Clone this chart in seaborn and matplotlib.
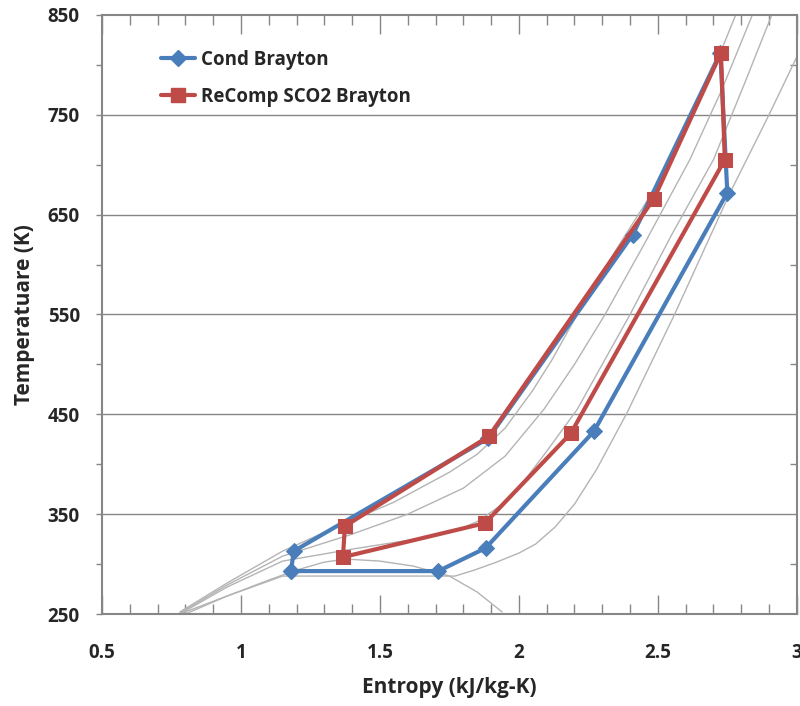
import numpy as np
import pandas as pd
import matplotlib
matplotlib.use("Agg")
import matplotlib.pyplot as plt
import seaborn as sns
from matplotlib.ticker import MultipleLocator, FuncFormatter
from matplotlib.lines import Line2D

# ---- cycle data (entropy kJ/kg-K, temperature K) ----
cond_s = [1.18, 1.19, 1.89, 2.41, 2.725, 2.75, 2.27, 1.88, 1.71, 1.18]
cond_T = [293, 313, 426, 630, 812, 672, 433, 316, 293, 293]
recomp_s = [1.374, 1.892, 2.486, 2.727, 2.741, 2.187, 1.878, 1.367, 1.374]
recomp_T = [338, 428, 666, 812, 705, 431, 341, 307, 338]

# ---- background isobars and saturation dome ----
iso1_s = [0.78, 0.95, 1.15, 1.35, 1.55, 1.75, 1.85, 1.95, 2.05, 2.12, 2.21, 2.35, 2.48, 2.60, 2.70, 2.78]
iso1_T = [252, 281, 313, 338, 362, 392, 410, 436, 474, 505, 550, 615, 672, 735, 795, 850]
iso2_s = [0.78, 0.95, 1.15, 1.40, 1.60, 1.80, 1.95, 2.09, 2.20, 2.31, 2.45, 2.615, 2.73, 2.84]
iso2_T = [251, 279, 308, 330, 350, 376, 408, 455, 500, 550, 620, 705, 775, 850]
iso3_s = [0.78, 0.95, 1.15, 1.40, 1.65, 1.78, 1.86, 1.93, 2.01, 2.10, 2.21, 2.40, 2.55, 2.70, 2.81, 2.91]
iso3_T = [250, 277, 303, 315, 326, 334, 344, 358, 380, 413, 455, 550, 630, 705, 780, 850]
iso4_s = [0.78, 0.95, 1.15, 1.45, 1.77, 1.84, 1.92, 2.00, 2.06, 2.13, 2.20, 2.28, 2.39, 2.56, 2.76, 2.90, 3.00]
iso4_T = [250, 268, 288, 288, 288, 294, 302, 311, 320, 337, 360, 395, 452, 550, 672, 750, 808]
dome_s = [0.80, 0.95, 1.10, 1.20, 1.30, 1.38, 1.50, 1.62, 1.75, 1.85, 1.94]
dome_T = [250, 268, 284, 294, 302, 305, 303, 298, 288, 272, 252]

curves = pd.concat([
    pd.DataFrame({"s": s, "T": t, "curve": name})
    for name, s, t in [("iso1", iso1_s, iso1_T), ("iso2", iso2_s, iso2_T),
                       ("iso3", iso3_s, iso3_T), ("iso4", iso4_s, iso4_T),
                       ("dome", dome_s, dome_T)]
], ignore_index=True)

sns.set_style("white")
plt.rcParams["font.family"] = ["Open Sans", "DejaVu Sans"]

fig = plt.figure(figsize=(8.0, 7.06), dpi=100)
ax = fig.add_axes([0.1275, 0.1303, 0.996 - 0.1275, 0.9788 - 0.1303])

gridc = "#868686"
for yv in [350, 450, 550, 650, 750]:
    ax.axhline(yv, color=gridc, lw=1.0, zorder=0)

sns.lineplot(data=curves, x="s", y="T", units="curve", estimator=None, sort=False,
             color="#b4b4b4", lw=1.0, ax=ax, zorder=1, legend=False)

blue = "#4a7ebb"
red = "#be4b48"
sns.lineplot(x=cond_s, y=cond_T, estimator=None, sort=False, color=blue, lw=3.0,
             marker="D", markersize=8, markeredgecolor=blue, ax=ax, zorder=3)
sns.lineplot(x=recomp_s, y=recomp_T, estimator=None, sort=False, color=red, lw=3.0,
             marker="s", markersize=10.5, markeredgecolor=red, ax=ax, zorder=4)

ax.set_xlim(0.5, 3.0)
ax.set_ylim(250, 850)
ax.xaxis.set_major_locator(MultipleLocator(0.5))
ax.xaxis.set_minor_locator(MultipleLocator(0.1))
ax.yaxis.set_minor_locator(MultipleLocator(50))
ax.set_yticks([250, 350, 450, 550, 650, 750, 850])
ax.xaxis.set_major_formatter(FuncFormatter(lambda v, p: f"{v:g}"))

for sp in ax.spines.values():
    sp.set_color(gridc)
    sp.set_linewidth(1.5)

ax.tick_params(axis="x", which="major", direction="in", length=14, width=1, color=gridc,
               top=True, bottom=True, pad=21, labelsize=13.5)
ax.tick_params(axis="x", which="minor", direction="in", length=7, width=1, color=gridc,
               top=True, bottom=True)
ax.tick_params(axis="y", which="major", direction="out", length=4, width=1, color=gridc,
               left=True, right=False, pad=12, labelsize=13.5)
ax.tick_params(axis="y", which="minor", direction="out", length=4, width=1, color=gridc,
               left=True, right=False)
for lab in ax.get_xticklabels() + ax.get_yticklabels():
    lab.set_fontweight("bold")

# right-side inner ticks
ax2 = ax.secondary_yaxis("right")
ax2.set_yticks([300, 400, 500, 600, 700, 800])
ax2.tick_params(direction="in", length=5, width=1, color=gridc, labelright=False)
ax2.spines["right"].set_visible(False)

ax.set_xlabel("Entropy (kJ/kg-K)", fontsize=15, fontweight="bold", labelpad=10)
ax.set_ylabel("Temperatuare (K)", fontsize=15, fontweight="bold", labelpad=9)

handles = [
    Line2D([], [], color=blue, lw=3.0, marker="D", markersize=8, markeredgecolor=blue),
    Line2D([], [], color=red, lw=3.0, marker="s", markersize=10.5, markeredgecolor=red),
]
leg = ax.legend(handles, ["Cond Brayton", "ReComp SCO2 Brayton"], loc="upper left",
                bbox_to_anchor=(0.06, 0.97), frameon=False, handlelength=1.85,
                labelspacing=0.9, handletextpad=0.3,
                prop={"weight": "bold", "size": 13.5})

fig.savefig("out.png", dpi=100)
